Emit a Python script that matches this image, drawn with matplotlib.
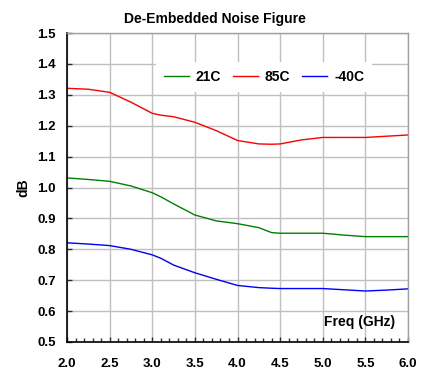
import matplotlib
matplotlib.use("Agg")
import matplotlib.pyplot as plt
from matplotlib.ticker import MultipleLocator

plt.rcParams['font.family'] = ['Liberation Sans', 'DejaVu Sans']

freq = [2.0, 2.25, 2.5, 2.75, 3.0, 3.1, 3.25, 3.5, 3.75, 4.0, 4.25, 4.4, 4.5, 4.75, 5.0, 5.25, 5.5, 5.75, 6.0]
nf_21c = [1.031, 1.026, 1.020, 1.005, 0.983, 0.970, 0.947, 0.911, 0.892, 0.883, 0.870, 0.854, 0.852, 0.852, 0.852, 0.846, 0.841, 0.841, 0.841]
nf_85c = [1.321, 1.318, 1.308, 1.276, 1.240, 1.234, 1.229, 1.211, 1.184, 1.152, 1.141, 1.140, 1.141, 1.154, 1.162, 1.162, 1.162, 1.166, 1.170]
nf_m40c = [0.821, 0.817, 0.812, 0.800, 0.782, 0.771, 0.749, 0.724, 0.703, 0.683, 0.676, 0.674, 0.673, 0.673, 0.673, 0.669, 0.665, 0.668, 0.672]

xticks = [2.0, 2.5, 3.0, 3.5, 4.0, 4.5, 5.0, 5.5, 6.0]
yticks = [0.5, 0.6, 0.7, 0.8, 0.9, 1.0, 1.1, 1.2, 1.3, 1.4, 1.5]

fig = plt.figure(figsize=(4.3, 3.7), dpi=100)
ax = fig.add_axes([67/430, 1-342/370, (408-67)/430, (342-33)/370])

ax.plot(freq, nf_21c, color='#008000', lw=1.0, label='21C')
ax.plot(freq, nf_85c, color='#ff0000', lw=1.0, label='85C')
ax.plot(freq, nf_m40c, color='#0000ff', lw=1.0, label='-40C')

ax.set_xlim(2.0, 6.0)
ax.set_ylim(0.5, 1.5)
ax.set_xticks(xticks)
ax.set_xticklabels([f"{v:.1f}" for v in xticks])
ax.set_yticks(yticks)
ax.set_yticklabels([f"{v:.1f}" for v in yticks])
ax.xaxis.set_minor_locator(MultipleLocator(0.1))
ax.grid(True, which='major', color='#c0c0c0', lw=1.0)
ax.set_axisbelow(True)

ax.tick_params(axis='both', which='major', direction='in', length=3.5, width=1, color='#303030',
               labelsize=9.5)
ax.tick_params(axis='x', which='major', pad=11.5)
ax.tick_params(axis='y', which='major', pad=8)
ax.tick_params(axis='x', which='minor', direction='in', length=3, width=1, color='#303030')
ax.tick_params(axis='y', which='minor', left=False)
for lab in ax.get_xticklabels() + ax.get_yticklabels():
    lab.set_fontweight('bold')

for s in ['left', 'bottom']:
    ax.spines[s].set_color('black')
    ax.spines[s].set_linewidth(1.2)
for s in ['top', 'right']:
    ax.spines[s].set_color('#a0a0a0')
    ax.spines[s].set_linewidth(1.0)

ax.set_ylabel('dB', fontsize=10, fontweight='bold', labelpad=5)
ax.text(0.962, 0.065, 'Freq (GHz)', transform=ax.transAxes, ha='right', va='center',
        fontsize=10, fontweight='bold')
fig.text(215/430, 1-19/370, 'De-Embedded Noise Figure', ha='center', va='center',
         fontsize=10, fontweight='bold')

leg = ax.legend(loc='center', bbox_to_anchor=((264-67)/341, 1-(77-33)/309), ncol=3, frameon=True,
                fontsize=10, handlelength=1.8, handletextpad=0.5, columnspacing=0.85,
                borderpad=0.6)
leg.get_frame().set_edgecolor('none')
leg.get_frame().set_facecolor('white')
leg.get_frame().set_alpha(1.0)
for t in leg.get_texts():
    t.set_fontweight('bold')

fig.savefig('out.png', dpi=100)
